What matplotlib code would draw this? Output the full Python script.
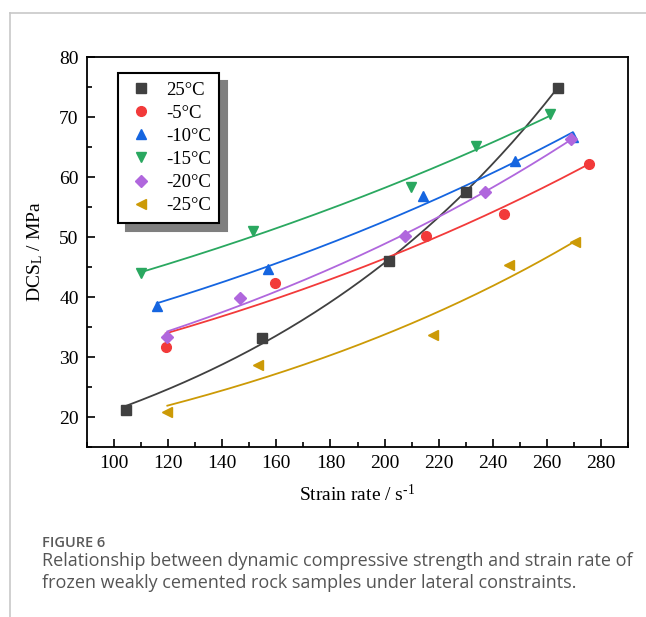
import numpy as np
import matplotlib
matplotlib.use("Agg")
import matplotlib.pyplot as plt
from matplotlib.ticker import MultipleLocator
from matplotlib.lines import Line2D

# ---------------- data ----------------
labels = ["25°C", "-5°C", "-10°C", "-15°C", "-20°C", "-25°C"]

x_25 = [104.3, 154.7, 201.6, 230.0, 264.0]
y_25 = [21.2, 33.1, 46.0, 57.5, 74.9]

x_m5 = [119.1, 159.6, 215.3, 244.2, 275.6]
y_m5 = [31.6, 42.3, 50.1, 53.8, 62.2]

x_m10 = [115.8, 156.8, 214.3, 248.1, 269.6]
y_m10 = [38.5, 44.7, 56.8, 62.7, 66.6]

x_m15 = [110.0, 151.5, 209.9, 233.7, 261.2]
y_m15 = [44.0, 51.0, 58.4, 65.1, 70.5]

x_m20 = [119.7, 146.7, 207.4, 237.0, 269.1]
y_m20 = [33.3, 39.9, 50.1, 57.5, 66.3]

x_m25 = [119.7, 153.2, 217.8, 246.0, 270.5]
y_m25 = [20.9, 28.7, 33.7, 45.4, 49.1]

# ---------------- style ----------------
serif = "Liberation Serif"
plt.rcParams["font.family"] = [serif, "DejaVu Serif"]
plt.rcParams["mathtext.fontset"] = "custom"
plt.rcParams["mathtext.rm"] = serif
plt.rcParams["mathtext.it"] = serif + ":italic"

colors = ["#404040", "#f23a3a", "#1565e0", "#2aa860", "#b067dd", "#cc9a06"]
markers = ["s", "o", "^", "v", "D", "<"]
msizes = [6.5, 7, 7.5, 7.5, 6.5, 7.5]

series = [(x_25, y_25), (x_m5, y_m5), (x_m10, y_m10),
          (x_m15, y_m15), (x_m20, y_m20), (x_m25, y_m25)]


def exp_fit(x, y):
    x = np.asarray(x, float)
    y = np.asarray(y, float)
    best = None
    for b in np.linspace(0.0005, 0.02, 4000):
        e = np.exp(b * x)
        a = np.dot(e, y) / np.dot(e, e)
        r = np.sum((a * e - y) ** 2)
        if best is None or r < best[0]:
            best = (r, a, b)
    return best[1], best[2]


fig = plt.figure(figsize=(6.46, 6.17), dpi=100)
ax = fig.add_axes([87 / 646, 1 - 447 / 617, (628 - 87) / 646, (447 - 57) / 617])

for (xs, ys), c, m, ms, lab in zip(series, colors, markers, msizes, labels):
    a, b = exp_fit(xs, ys)
    xx = np.linspace(min(xs), max(xs), 200)
    ax.plot(xx, a * np.exp(b * xx), color=c, lw=1.3, zorder=2)
    ax.plot(xs, ys, ls="none", marker=m, ms=ms, color=c, mec=c, zorder=3, label=lab)

ax.set_xlim(90, 290)
ax.set_ylim(15, 80)
ax.xaxis.set_major_locator(MultipleLocator(20))
ax.xaxis.set_minor_locator(MultipleLocator(10))
ax.yaxis.set_major_locator(MultipleLocator(10))
ax.yaxis.set_minor_locator(MultipleLocator(5))
ax.tick_params(which="both", direction="in", width=1.2, colors="black")
ax.tick_params(which="major", length=6, labelsize=14, pad=6)
ax.tick_params(which="minor", length=3.5)
for s in ax.spines.values():
    s.set_linewidth(1.3)

ax.set_xlabel("Strain rate / s$^{\\mathregular{\u20101}}$", fontsize=14, labelpad=8)
ax.set_ylabel(r"DCS$_{\mathregular{L}}$ / MPa", fontsize=14, labelpad=10)

leg = ax.legend(loc="upper left",
                bbox_to_anchor=((118 - 87) / 541, 1 - (73 - 57) / 390),
                borderaxespad=0.0,
                frameon=True, fancybox=False, fontsize=13.5, handletextpad=0.5,
                labelspacing=0.32, borderpad=0.45, handlelength=1.6,
                shadow={"ox": 5.5, "oy": -5.8, "color": "#7f7f7f", "alpha": 1.0})
leg.get_frame().set_edgecolor("black")
leg.get_frame().set_linewidth(1.5)

# page frame lines
fig.add_artist(Line2D([10 / 646, 10 / 646], [0, 1 - 13 / 617], color="#c8c8c8", lw=1.2))
fig.add_artist(Line2D([10 / 646, 1], [1 - 13 / 617, 1 - 13 / 617], color="#c8c8c8", lw=1.2))

# caption
cap_font = ["Open Sans", "DejaVu Sans"]
fig.text(42 / 646, 1 - 543 / 617, "FIGURE 6", family=cap_font, fontsize=10.5,
         color="#5a5a5a", va="center", weight="semibold")
fig.text(42 / 646, 1 - 561 / 617,
         "Relationship between dynamic compressive strength and strain rate of",
         family=cap_font, fontsize=13, color="#555555", va="center")
fig.text(42 / 646, 1 - 583 / 617,
         "frozen weakly cemented rock samples under lateral constraints.",
         family=cap_font, fontsize=13, color="#555555", va="center")

fig.savefig("out.png", dpi=100)
